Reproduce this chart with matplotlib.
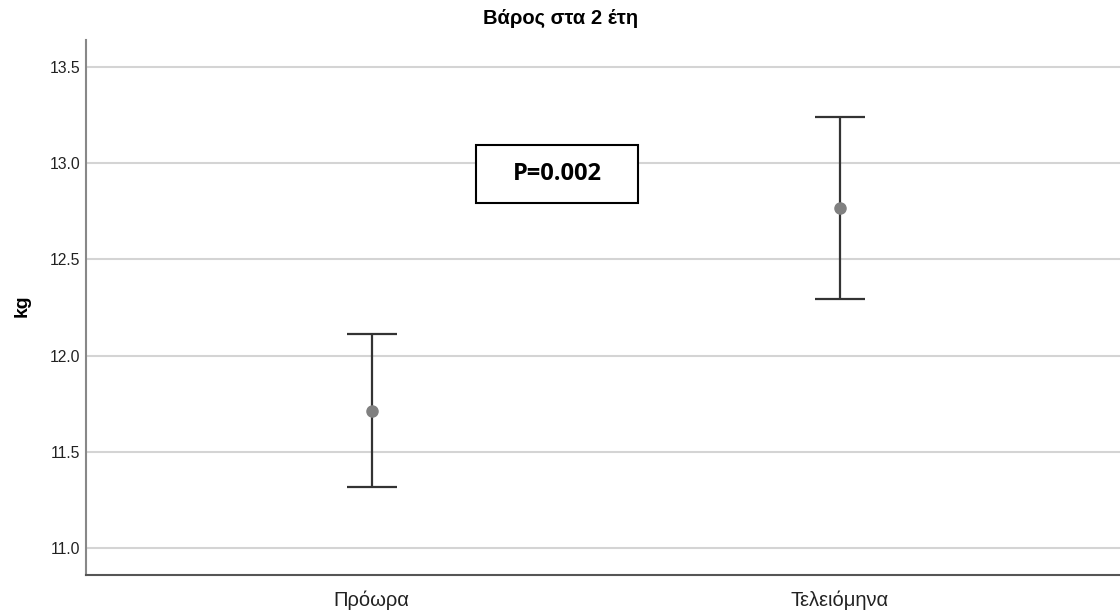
import matplotlib
matplotlib.use("Agg")
import matplotlib.pyplot as plt
from matplotlib.patches import Rectangle

categories = ["Πρόωρα", "Τελειόμηνα"]
means = [11.714, 12.764]
lower = [11.316, 12.292]
upper = [12.110, 13.240]
yticks = [11.0, 11.5, 12.0, 12.5, 13.0, 13.5]
title = "Βάρος στα 2 έτη"
ylabel = "kg"
annotation = "P=0.002"

plt.rcParams['font.family'] = ['Liberation Sans', 'DejaVu Sans']

fig = plt.figure(figsize=(11.2, 6.12), dpi=100)
ax = fig.add_axes([86/1120, 37/612, 1034/1120, 535/612])

x = list(range(len(categories)))
err_lo = [m - l for m, l in zip(means, lower)]
err_hi = [u - m for m, u in zip(means, upper)]
ax.errorbar(x, means, yerr=[err_lo, err_hi], fmt='none', ecolor='#333333',
            elinewidth=1.6, capsize=18, capthick=1.6, zorder=3)
ax.plot(x, means, 'o', color='#808080', markersize=8, zorder=4)

ax.set_xlim(-0.610, 1.598)
ax.set_ylim(10.861, 13.638)
ax.set_yticks(yticks)
ax.set_yticklabels([f"{v:.1f}" for v in yticks])
ax.set_xticks(x)
ax.set_xticklabels(categories)
ax.yaxis.grid(True, color='#d4d4d4', linewidth=1.5)
ax.set_axisbelow(True)
ax.tick_params(axis='both', length=0)
ax.tick_params(axis='y', labelsize=11.3, pad=4, labelcolor='#222222')
ax.tick_params(axis='x', labelsize=14.5, pad=11, labelcolor='#222222')
for s in ['top', 'right']:
    ax.spines[s].set_visible(False)
ax.spines['left'].set_color('#888888')
ax.spines['left'].set_linewidth(1.5)
ax.spines['bottom'].set_color('#555555')
ax.spines['bottom'].set_linewidth(1.5)

# annotation box
bx0, bx1 = 0.3769, 0.5341
by0, by1 = 0.6959, 0.8037
ax.add_patch(Rectangle((bx0, by0), bx1 - bx0, by1 - by0, transform=ax.transAxes,
                       facecolor='white', edgecolor='black', linewidth=1.5, zorder=5))
ax.text((bx0 + bx1) / 2, (by0 + by1) / 2, annotation, transform=ax.transAxes,
        ha='center', va='center', fontsize=17, fontweight='bold',
        family=['Open Sans', 'DejaVu Sans'], zorder=6)

fig.text(561/1120, 1 - 18/612, title, ha='center', va='center',
         fontsize=14.5, fontweight='bold')
fig.text(22/1120, 1 - 306/612, ylabel, ha='center', va='center', rotation=90,
         fontsize=14, fontweight='bold')

fig.savefig("out.png", dpi=100)
